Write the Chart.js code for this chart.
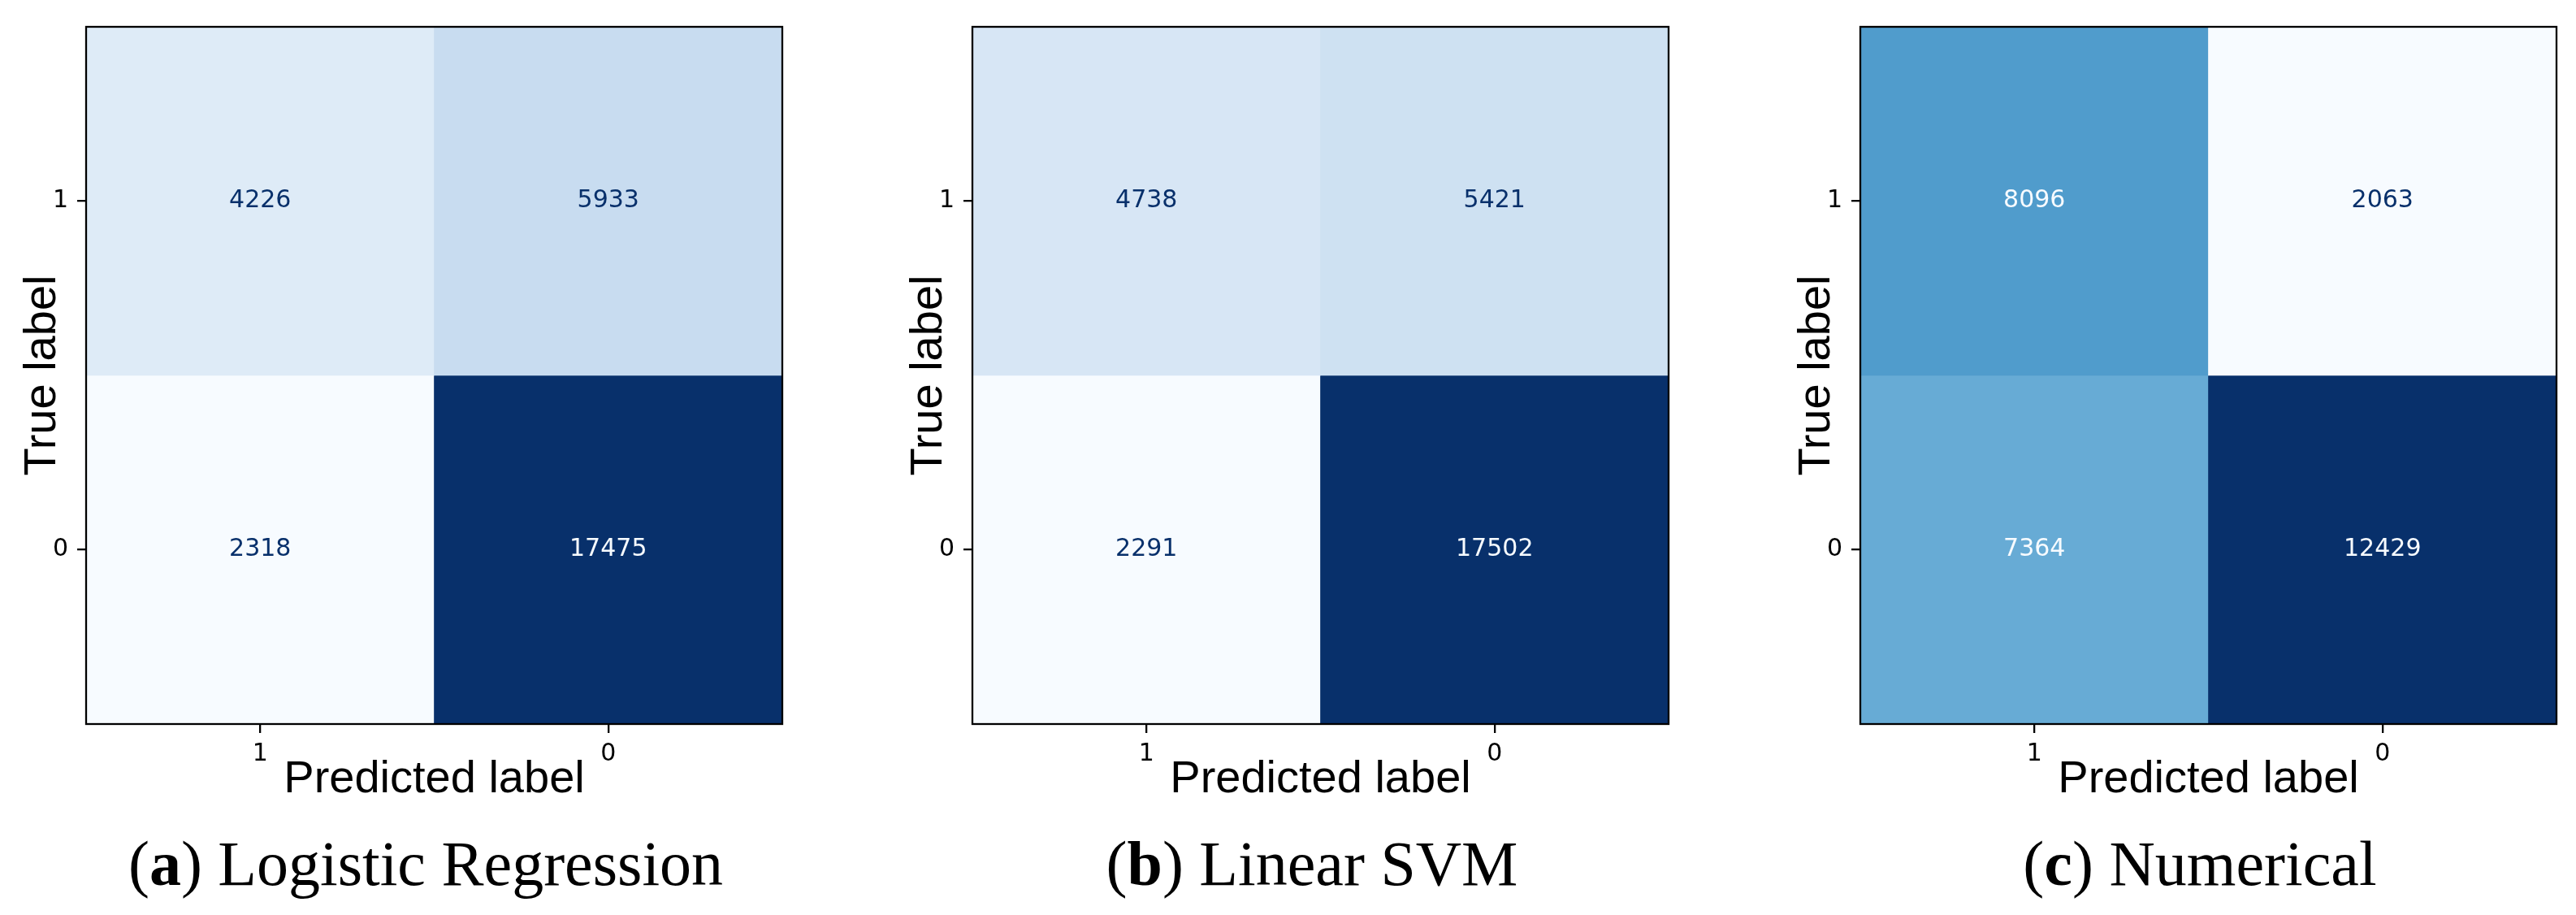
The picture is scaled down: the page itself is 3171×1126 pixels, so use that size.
<!DOCTYPE html>
<html>
<head>
<meta charset="utf-8">
<script src="https://cdn.jsdelivr.net/npm/chart.js@4.4.1/dist/chart.umd.min.js"></script>
<style>
    html, body { margin: 0; padding: 0; background: #fff; overflow: hidden; }
    body { width: 3171px; height: 1126px; position: relative; }
    canvas { position: absolute; top: 0; }
    .caption {
        position: absolute;
        top: 1024px;
        width: 1000px;
        text-align: center;
        font-family: 'Liberation Serif', 'Times New Roman', serif;
        font-size: 78px;
        line-height: 78px;
        color: #000;
        white-space: nowrap;
    }
</style>
</head>
<body>
<canvas id="cm-logistic" width="985" height="1000" style="left:0px"></canvas>
<canvas id="cm-svm" width="985" height="1000" style="left:1091px"></canvas>
<canvas id="cm-numerical" width="985" height="1000" style="left:2184px"></canvas>
<div class="caption" style="left:24px">(<b>a</b>) Logistic Regression</div>
<div class="caption" style="left:1115px">(<b>b</b>) Linear SVM</div>
<div class="caption" style="left:2208px">(<b>c</b>) Numerical</div>

<script>
// axis categories
const predictedLabels = ['1', '0'];
const trueLabels = ['1', '0'];

// counts per true label row, in predictedLabels order
const logisticTrue1 = [4226, 5933];
const logisticTrue0 = [2318, 17475];
const svmTrue1 = [4738, 5421];
const svmTrue0 = [2291, 17502];
const numericalTrue1 = [8096, 2063];
const numericalTrue0 = [7364, 12429];

// matplotlib "Blues"
const bluesStops = ['#f7fbff', '#deebf7', '#c6dbef', '#9ecae1', '#6baed6', '#4292c6', '#2171b5', '#08519c', '#08306b'];

function hexToRgb(hex) {
    const n = parseInt(hex.slice(1), 16);
    return [(n >> 16) & 255, (n >> 8) & 255, n & 255];
}

function blues(t) {
    t = Math.max(0, Math.min(1, t));
    const pos = t * (bluesStops.length - 1);
    const i = Math.min(Math.floor(pos), bluesStops.length - 2);
    const f = pos - i;
    const a = hexToRgb(bluesStops[i]);
    const b = hexToRgb(bluesStops[i + 1]);
    const c = a.map((v, k) => Math.round(v + (b[k] - v) * f));
    return `rgb(${c[0]}, ${c[1]}, ${c[2]})`;
}

const FRAME = '#000000';
const LINE_W = 2.3;

const frameAndValues = {
    id: 'frameAndValues',
    afterDatasetsDraw(chart) {
        const {ctx, chartArea} = chart;
        const all = chart.data.datasets.flatMap((d) => d.data.map((p) => p.count));
        const lo = Math.min(...all);
        const hi = Math.max(...all);
        const thresh = (lo + hi) / 2;

        ctx.save();
        ctx.font = '30px "DejaVu Sans"';
        ctx.textAlign = 'center';
        ctx.textBaseline = 'middle';
        chart.data.datasets.forEach((ds, di) => {
            chart.getDatasetMeta(di).data.forEach((bar, j) => {
                const count = ds.data[j].count;
                ctx.fillStyle = count >= thresh ? bluesStops[0] : bluesStops[bluesStops.length - 1];
                ctx.fillText(String(count), bar.x, (bar.y + bar.base) / 2);
            });
        });

        ctx.strokeStyle = FRAME;
        ctx.lineWidth = LINE_W;
        ctx.strokeRect(chartArea.left, chartArea.top, chartArea.right - chartArea.left, chartArea.bottom - chartArea.top);
        ctx.restore();
    },
};

function makeMatrix(canvasId, rows) {
    const all = rows.flat();
    const lo = Math.min(...all);
    const hi = Math.max(...all);

    const datasets = trueLabels.map((label, i) => ({
        label: 'True ' + label,
        data: predictedLabels.map((p, j) => ({
            x: p,
            y: [Number(label) - 0.5, Number(label) + 0.5],
            count: rows[i][j],
        })),
        backgroundColor: rows[i].map((v) => blues((v - lo) / (hi - lo))),
        borderWidth: 0,
        barPercentage: 1,
        categoryPercentage: 1,
        grouped: false,
    }));

    new Chart(document.getElementById(canvasId), {
        type: 'bar',
        data: {
            labels: predictedLabels,
            datasets: datasets,
        },
        options: {
            responsive: false,
            animation: false,
            layout: {
                padding: {top: 33, left: 0, right: 22, bottom: 0},
            },
            plugins: {
                legend: {display: false},
                tooltip: {enabled: false},
            },
            scales: {
                x: {
                    type: 'category',
                    offset: true,
                    afterFit: (scale) => { scale.height = 109; },
                    grid: {
                        offset: false,
                        drawOnChartArea: false,
                        drawTicks: true,
                        tickLength: 11,
                        color: FRAME,
                        lineWidth: LINE_W,
                    },
                    border: {display: false},
                    ticks: {
                        color: '#000',
                        padding: 8,
                        maxRotation: 0,
                        font: {family: 'DejaVu Sans', size: 30},
                    },
                    title: {
                        display: true,
                        text: 'Predicted label',
                        color: '#000',
                        padding: {top: 0, bottom: 12},
                        font: {family: 'Liberation Sans', size: 56, lineHeight: 1},
                    },
                },
                y: {
                    type: 'linear',
                    min: -0.5,
                    max: 1.5,
                    afterFit: (scale) => { scale.width = 106; },
                    afterBuildTicks: (scale) => {
                        scale.ticks = trueLabels.map((l) => ({value: Number(l)}));
                    },
                    grid: {
                        drawOnChartArea: false,
                        drawTicks: true,
                        tickLength: 11,
                        color: FRAME,
                        lineWidth: LINE_W,
                    },
                    border: {display: false},
                    ticks: {
                        color: '#000',
                        padding: 11,
                        font: {family: 'DejaVu Sans', size: 30},
                        callback: (value) => String(value),
                    },
                    title: {
                        display: true,
                        text: 'True label',
                        color: '#000',
                        padding: {top: 25, bottom: 0},
                        font: {family: 'Liberation Sans', size: 56, lineHeight: 1},
                    },
                },
            },
        },
        plugins: [frameAndValues],
    });
}

makeMatrix('cm-logistic', [logisticTrue1, logisticTrue0]);
makeMatrix('cm-svm', [svmTrue1, svmTrue0]);
makeMatrix('cm-numerical', [numericalTrue1, numericalTrue0]);
</script>
</body>
</html>
